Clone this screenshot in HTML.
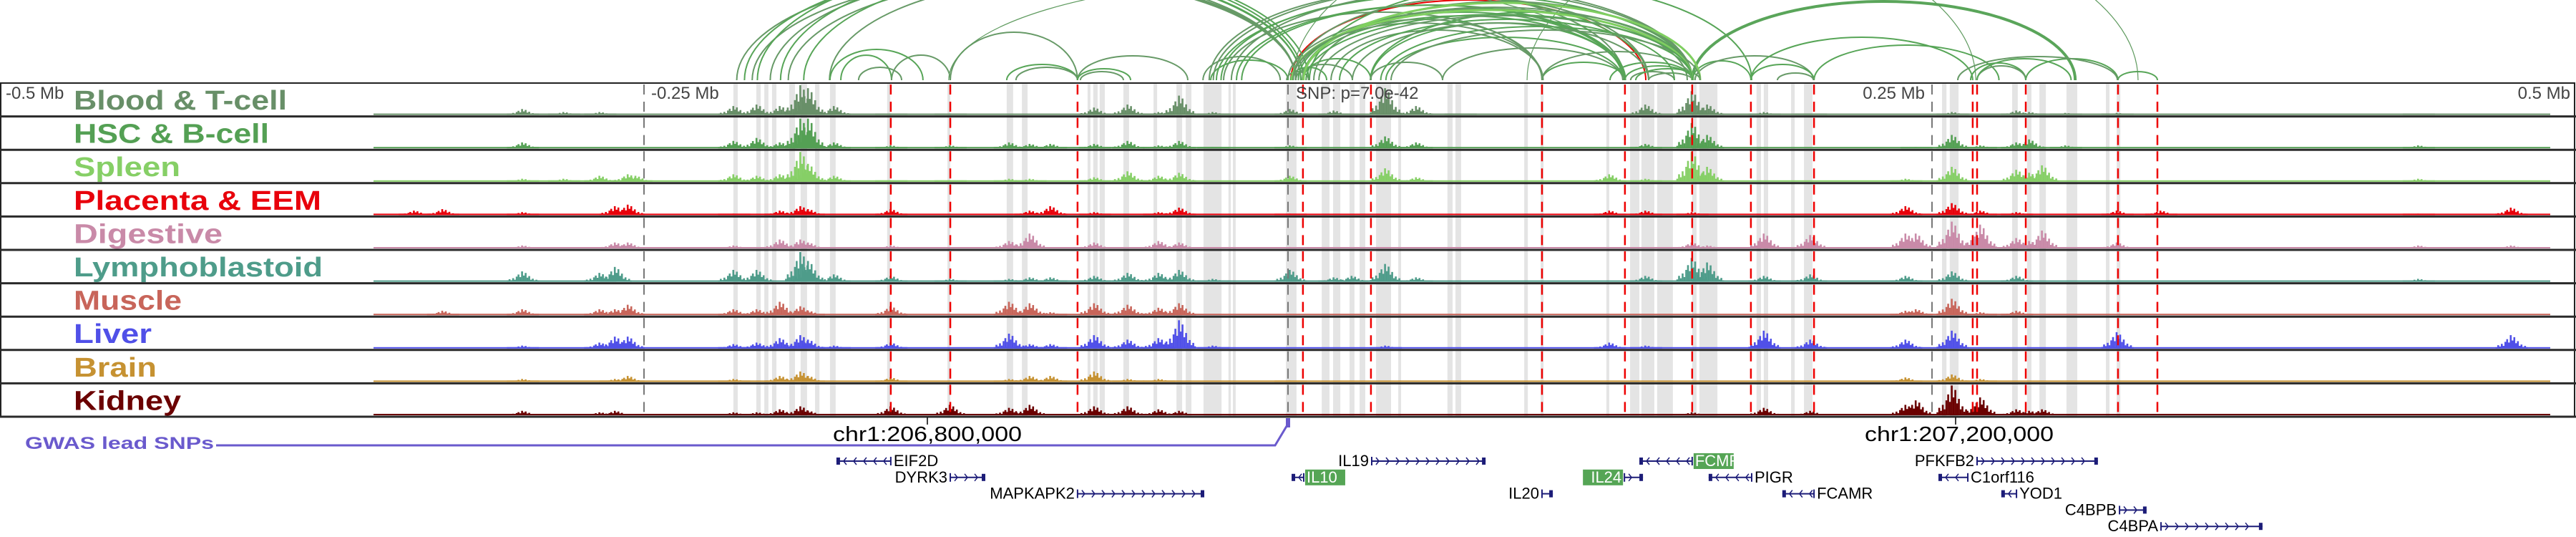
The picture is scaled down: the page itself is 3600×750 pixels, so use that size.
<!DOCTYPE html>
<html><head><meta charset="utf-8"><style>
html,body{margin:0;padding:0;background:#fff}
svg{display:block}
text{font-family:"Liberation Sans","DejaVu Sans",sans-serif}
</style></head><body>
<svg id="fig" xmlns="http://www.w3.org/2000/svg" width="3600" height="750" viewBox="0 0 3600 750">
<g id="arcs"></g>
<g id="bands"></g>
<g id="tracks"></g>
<g id="vlines"></g>
<g id="frame"></g>
<g id="labels"></g>
<g id="axis"></g>
<g id="genes"></g>
</svg>
<script>
// ---- data (positions in kb relative to lead SNP) ----
const trackNames = ["Blood & T-cell","HSC & B-cell","Spleen","Placenta & EEM","Digestive","Lymphoblastoid","Muscle","Liver","Brain","Kidney"];
const trackColors = ["#688f68","#54a054","#86cf66","#e8000b","#c98aa8","#4e9c8a","#c8655a","#5050e8","#c69232","#6b0000"];
const labelWidths = [298,273,149,346,208,348,151,109,116,150];
const elementKb = [-350,-339,-328,-317,-306,-297,-281,-267,-261,-256,-253,-215,-211,-206,-197,-189,-186,-176,-154,-131,-108,-100,-92,-75,-62,-50,-42,-29,1,18,25,38,50,67,125,139,157,163,185,203,240,244,258,269,283,288,293,302,322,339,439,475];
const blood = [0,0,0,0,0,.2,.1,.1,0,0,0,.3,0,.35,.3,1,.9,.3,.05,.05,0,0,0,.25,.35,.1,.65,.1,.2,.15,0,.9,.3,.05,0,.35,.8,.35,.1,.05,0,0,.1,0,.15,.1,0,.07,.07,0,.05,0];
const hsc = [0,0,0,0,0,.2,0,0,0,0,0,.25,0,.35,.2,1,1,.2,.1,.1,.2,.15,.15,.15,.25,.1,.25,.05,.1,0,0,.4,.2,0,0,.15,.85,.45,0,0,0,.05,.45,.1,.2,.3,0,.1,0,0,.1,0];
const spleen = [0,0,0,0,0,.1,.1,.2,0,.25,.2,.25,0,.2,.25,1,.6,.2,.05,.05,.1,.1,0,.15,.35,.2,.3,0,.2,0,0,.45,.15,0,.25,.1,1,.5,0,0,.1,0,.5,0,.4,.3,.55,0,0,0,.1,0];
const placenta = [0,.15,.2,0,0,.1,0,0,.3,.35,0,.05,0,0,.15,.3,.2,0,.2,0,0,.15,.3,.1,0,.1,.25,0,.05,0,0,0,0,0,.15,.15,.1,0,0,0,.3,0,.4,.15,.1,0,0,0,.15,.15,.05,.25];
const digestive = [0,0,0,0,0,.1,0,0,.2,.2,0,.1,0,0,.3,.3,.2,0,.1,0,.25,.5,0,.2,0,.25,.2,0,.05,0,0,0,0,0,0,0,.2,.1,.5,.45,.5,.5,.9,.8,.35,.25,.6,0,.2,0,.1,.1];
const lympho = [0,0,0,0,0,.35,0,.3,.5,0,0,.4,0,.4,0,1,.7,.25,.2,.1,.1,.15,.15,.2,.3,.3,.4,.1,.4,.15,.2,.6,.15,0,0,.2,.8,.65,.2,.25,.2,0,.35,0,.2,0,0,0,0,0,.1,0];
const muscle = [0,0,.15,0,0,.2,0,.2,.2,.35,0,.2,0,.2,.45,.3,.15,0,.3,0,.45,.4,.1,.4,.35,.25,.4,0,0,0,0,0,0,0,0,0,0,0,0,0,.15,.2,.55,.1,.15,0,0,0,0,0,0,0];
const liver = [0,0,0,0,0,.1,0,.2,.4,.4,0,.15,0,.2,.35,.45,.3,.1,.2,0,.5,.15,.15,.45,.3,.35,.95,.1,0,0,0,.1,0,0,.2,.1,0,0,.6,.3,.3,0,.6,0,0,0,0,0,.55,0,0,.45];
const brain = [0,0,0,0,0,.1,0,0,.1,.2,0,.1,0,0,.2,.35,.2,0,.15,0,.1,.2,.2,.35,.1,.1,0,0,.05,0,0,0,0,0,0,0,0,0,0,0,.15,0,.25,.1,0,0,0,0,0,0,0,0];
const kidney = [0,0,0,0,0,.15,0,.1,.15,0,0,.1,0,.1,.2,.3,.15,0,.3,.35,.25,.35,0,.3,.3,.2,.15,0,0,0,0,0,0,0,0,0,.1,0,.25,.15,.35,.5,1,.6,.2,.15,.2,0,0,0,0,0];
const trackValues = [blood,hsc,spleen,placenta,digestive,lympho,muscle,liver,brain,kidney];
const bandStart = [-215.3,-206.4,-203.3,-200.3,-193.6,-189.2,-183.6,-177.8,-155.6,-132.2,-109.2,-103.3,-77.8,-75.6,-73.1,-63.9,-52.2,-43.3,-39.7,-32.8,-23.1,-21.4,-0.8,13.1,17.5,23.9,27.8,34.2,42.8,61.9,65,91.7,98.1,123.6,132.8,137.2,143.3,156.9,159.7,181.9,184.7,195.3,200.3,253.9,256.9,281.1,286.9,291.7,302.2,317.5,321.7];
const bandEnd   = [-213.6,-204.7,-201.7,-198.6,-191.4,-186.7,-181.9,-175.6,-154.4,-131.1,-106.7,-101.1,-76.7,-73.9,-71.1,-61.7,-50.8,-41.1,-37.5,-25.8,-22.2,-20.3,3.3,16.1,20.3,25.8,30,40,43.9,63.9,67.2,93.1,99.2,124.7,136.4,142.2,149.4,158.6,166.7,183.6,186.4,196.7,203.6,255.6,260.3,283.3,288.6,294.2,306.4,318.9,323.1];
const redLineKb = [-154.2,-131.1,-81.7,5.8,32.2,98.6,130.8,156.9,179.7,204.2,265.8,267.5,286.4,322.2,337.5];
const axisTickKb = [-250,0,250];
const arcStart = [1.1,-214,-211,-208,-206,-201,-197,-194,-188,-178,-173.6,-153.9,-177.8,-166.7,-131.1,-109.2,-105.6,-81.7,-81.7,-80.6,-131.7,-30.6,-27.8,0,5.6,16.7,32.2,5.6,8.3,-25,-20,10,32,38,60,98.6,98.6,-33,-30,-0.5,1,3,5.8,32,130.8,133,135,140,125,157,158,179.7,157,179.7,204.2,190,265,267.5,267.5,286.4,322.2,260,2,92.8,-29,-26,-22,-18,3,4,6,12,20,25,36,40,1.5,2,7,2];
const arcEnd   = [138.9,3,5,3,8,3,6,3,5,3,-153.9,-131.1,-141.7,-150,-81.7,-81.7,-81.7,-38.9,-61.1,-63.9,130,130.6,156.9,155,130.6,99,130.6,98.6,180,98.6,130,157,157,130,130,130.8,157,-3,0,8,15,25,32.2,60,157,150,160,157,157,179.7,204,204.2,305.6,265.8,276,204,286.4,286.4,304,322.2,337.5,322,267,330,157,140,157,131,157,131,160,157,150,140,157,160,157,99,157,140];
const arcScore = [112,150,158,145,165,150,160,142,152,140,35,35,43,18,67,22,18,34,16,12,140,125,120,100,90,70,80,85,135,95,105,110,95,60,45,25,40,33,28,12,18,22,30,25,20,12,16,10,25,27,34,22,110,60,49,10,24,20,30,30,12,33,230,220,130,118,125,105,102,95,108,90,85,80,75,70,98,80,92,115];
const arcKind  = [4,0,1,0,1,0,1,0,1,0,1,0,1,0,0,1,0,0,1,0,3,0,1,0,1,0,1,0,1,0,1,0,1,1,0,1,0,0,1,0,1,0,1,0,1,0,1,0,1,1,0,1,5,1,1,0,1,0,1,1,1,0,3,3,0,1,0,1,0,1,2,0,1,0,1,0,2,0,1,0];
const geneNames = ["EIF2D","DYRK3","MAPKAPK2","IL19","IL10","IL20","IL24","FCMR","PIGR","FCAMR","PFKFB2","C1orf116","YOD1","C4BPB","C4BPA"];
const geneStart = [-175.3,-131.1,-81.7,32.5,1.4,98.6,130.6,136.4,163.3,191.9,267.5,252.5,276.9,322.8,338.9];
const geneEnd   = [-154.2,-117.5,-32.5,76.7,6.1,102.8,137.8,156.9,180,204.2,314.4,263.9,282.8,333.3,378.3];
const geneRow   = [0,1,2,0,1,2,1,0,1,2,0,1,2,3,4];
const geneStrand= [-1,1,1,1,-1,1,1,-1,-1,-1,1,-1,-1,1,1];
const geneLabelSide = ["R","L","L","L","R","L","L","R","R","R","L","R","R","L","L"];
const geneHighlight = [0,0,0,0,1,0,1,1,0,0,0,0,0,0,0];

// ---- scales ----
const NS="http://www.w3.org/2000/svg";
const xScale = kb => 1800 + kb*3.6;
const TOP=116, TH=46.6, NT=10, BOTTOM=TOP+TH*NT;
function mk(tag, attrs, parent){const e=document.createElementNS(NS,tag);for(const k in attrs)e.setAttribute(k,attrs[k]);parent.appendChild(e);return e;}
const G = id => document.getElementById(id);

// arcs
const arcColors=["#679a67","#57a557","#7fcf60","#5e9a5e","#e80000","#5aa55a"];
const arcWidths=[2,2,3,1.2,2,4];
const BASE=112;
arcStart.forEach((s,i)=>{
  const x1=xScale(s), x2=xScale(arcEnd[i]); const rx=(x2-x1)/2, ry=arcScore[i];
  const p=mk('path',{d:`M${x1},${BASE} A${rx},${ry} 0 0 1 ${x2},${BASE}`,fill:'none',stroke:arcColors[arcKind[i]],'stroke-width':arcWidths[arcKind[i]]},G('arcs'));
  
  
});

// bands
bandStart.forEach((s,i)=>{
  const x=xScale(s), w=Math.max(2,xScale(bandEnd[i])-x);
  const r=mk('rect',{x:x,y:TOP,width:w,height:BOTTOM-TOP,fill:'#e4e4e4'},G('bands'));
  
  
});

// tracks
const profile=[0.1,0.25,0.15,0.35,0.2,0.5,0.7,0.45,1,0.6,0.85,0.4,0.55,0.2,0.3,0.12,0.2,0.08];
trackValues.forEach((vals,t)=>{
  const g=mk('g',{},G('tracks'));
  
  
  const base=TOP+(t+1)*TH-2, maxH=TH-5, col=trackColors[t];
  const bl=mk('rect',{x:xScale(-355),y:base-2,width:xScale(490)-xScale(-355),height:2,fill:col},g);
  
  
  vals.forEach((v,i)=>{
    if(v<=0) return;
    const cx=xScale(elementKb[i]);
    const n=profile.length;
    profile.forEach((p,k)=>{
      const h=Math.max(2,v*maxH*p);
      const b=mk('rect',{x:cx+(k-n/2)*2.5,y:base-h,width:2.6,height:h,fill:col},g);
      
      
    });
  });
});

// vertical marker lines
for(let t=0;t<NT;t++){
  const y1=TOP+t*TH+2, y2=TOP+(t+1)*TH-2;
  redLineKb.forEach(k=>{
    const l=mk('line',{x1:xScale(k),x2:xScale(k),y1:y1,y2:y2,stroke:'#ee0000','stroke-width':2.5,'stroke-dasharray':'14 10'},G('vlines'));
    
    
  });
  axisTickKb.forEach(k=>{
    const l=mk('line',{x1:xScale(k),x2:xScale(k),y1:y1,y2:y2,stroke:'#777','stroke-width':2,'stroke-dasharray':'14 10'},G('vlines'));
    
    
  });
}

// frame
const fr=mk('rect',{x:1,y:TOP,width:3597,height:BOTTOM-TOP,fill:'none',stroke:'#222','stroke-width':2},G('frame'));


for(let t=1;t<=NT;t++){
  const l=mk('line',{x1:0,x2:3600,y1:TOP+t*TH,y2:TOP+t*TH,stroke:'#2a2a2a','stroke-width':3},G('frame'));
  
  
}

// labels
trackNames.forEach((n,t)=>{
  const tx=mk('text',{x:103,y:TOP+t*TH+37,'font-size':38,'font-weight':'bold',fill:trackColors[t],textLength:labelWidths[t],lengthAdjust:'spacingAndGlyphs','font-family':'DejaVu Sans, sans-serif'},G('labels'));
  tx.textContent=n;
  
  
});
</script>
<script>
(function(){
const NS="http://www.w3.org/2000/svg";
function mk(tag, attrs, parent){const e=document.createElementNS(NS,tag);for(const k in attrs)e.setAttribute(k,attrs[k]);parent.appendChild(e);return e;}
const ax=document.getElementById('axis');
const tl=[["-0.5 Mb",8,"start"],["-0.25 Mb",910,"start"],["SNP: p=7.0e-42",1811,"start"],["0.25 Mb",2690,"end"],["0.5 Mb",3592,"end"]];
tl.forEach(d=>{const t=mk('text',{x:d[1],y:138,'font-size':24,fill:'#444','text-anchor':d[2]},ax);t.textContent=d[0];

});
const chr=[["chr1:206,800,000",1164,1296],["chr1:207,200,000",2606,2733]];
chr.forEach(d=>{const t=mk('text',{x:d[1],y:616,'font-size':29,fill:'#000',textLength:264,lengthAdjust:'spacingAndGlyphs'},ax);t.textContent=d[0];


const l=mk('line',{x1:d[2],x2:d[2],y1:583,y2:593,stroke:'#000','stroke-width':1.5},ax);

});
const gw=mk('text',{x:35,y:627,'font-size':24,'font-weight':'bold',fill:'#6a5acd',textLength:264,lengthAdjust:'spacingAndGlyphs'},ax);gw.textContent="GWAS lead SNPs";


const pl=mk('polyline',{points:'302,622 1782,622 1800,592',fill:'none',stroke:'#6a5acd','stroke-width':3},ax);


const mr=mk('rect',{x:1797,y:584,width:6,height:13,fill:'#6a5acd'},ax);


})();
(function(){
const NS="http://www.w3.org/2000/svg";
function mk(tag, attrs, parent){const e=document.createElementNS(NS,tag);for(const k in attrs)e.setAttribute(k,attrs[k]);parent.appendChild(e);return e;}
const xScale = kb => 1800 + kb*3.6;
const rowY = r => 644 + r*22.8;
const gg=document.getElementById('genes');
geneNames.forEach((n,i)=>{
  const g=mk('g',{},gg);
  
  
  const x1=xScale(geneStart[i]), x2=xScale(geneEnd[i]), y=rowY(geneRow[i]);
  mk('line',{x1:x1,x2:x2,y1:y,y2:y,stroke:'#1c1c78','stroke-width':2},g);
  mk('rect',{x:geneStrand[i]>0?x2-5:x1,y:y-5,width:5,height:10,fill:'#1c1c78'},g);
  mk('line',{x1:geneStrand[i]>0?x1:x2,x2:geneStrand[i]>0?x1:x2,y1:y-6,y2:y+6,stroke:'#1c1c78','stroke-width':2},g);
  let d='';
  for(let x=x1+10;x<x2-6;x+=14){
    d+= geneStrand[i]>0 ? `M${x-4},${y-5}L${x},${y}L${x-4},${y+5}` : `M${x+4},${y-5}L${x},${y}L${x+4},${y+5}`;
  }
  if(d) mk('path',{d:d,fill:'none',stroke:'#1c1c78','stroke-width':1.5},g);
  const right=geneLabelSide[i]==="R";
  const tx=right?x2+4:x1-4;
  const t=mk('text',{x:tx,y:y+7,'font-size':22,'text-anchor':right?'start':'end',fill:geneHighlight[i]?'#fff':'#000'},g);
  t.textContent=n;
  if(geneHighlight[i]){
    const w=n.length*12.5+6;
    const r=mk('rect',{x:right?tx-2:tx-w+2,y:y-11,width:w,height:22,fill:'#55a555'},g);
    g.insertBefore(r,t);
  }
});
})();
</script>
</body></html>
